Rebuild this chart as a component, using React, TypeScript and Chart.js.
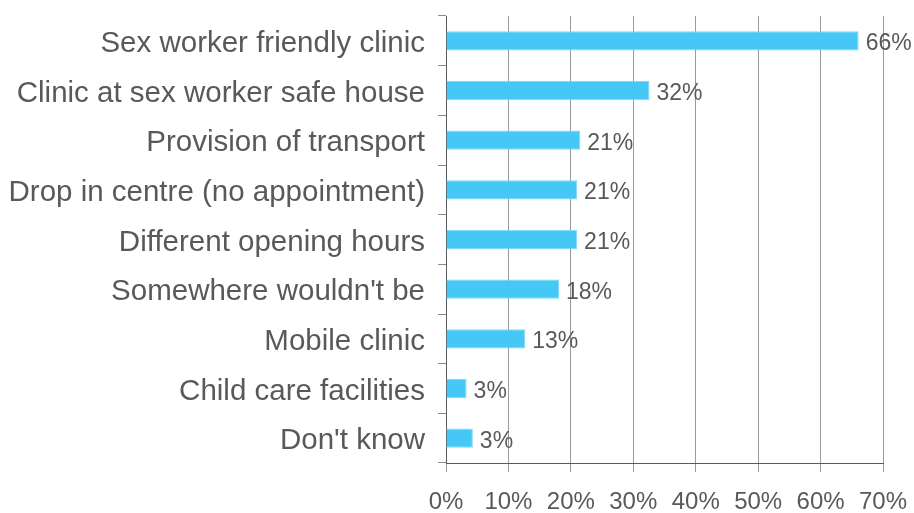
import React, { useEffect, useRef } from "react";
import { Chart, registerables } from "chart.js";

Chart.register(...registerables);

const categories = [
  "Sex worker friendly clinic",
  "Clinic at sex worker safe house",
  "Provision of transport",
  "Drop in centre (no appointment)",
  "Different opening hours",
  "Somewhere wouldn't be",
  "Mobile clinic",
  "Child care facilities",
  "Don't know",
];
const values = [66.1, 32.6, 21.5, 21.0, 21.0, 18.1, 12.7, 3.3, 4.3];
const valueLabels = ["66%", "32%", "21%", "21%", "21%", "18%", "13%", "3%", "3%"];
const xTicks = [0, 10, 20, 30, 40, 50, 60, 70];

const FONT = "'Liberation Sans', Arial, sans-serif";
const TEXT = "#595959";

export default function App() {
  const ref = useRef<HTMLCanvasElement | null>(null);
  useEffect(() => {
    document.body.style.margin = "0";
    const canvas = ref.current;
    if (!canvas) return;
    const labelPlugin = {
      id: "valueLabels",
      afterDatasetsDraw(chart: any) {
        const ctx = chart.ctx;
        const meta = chart.getDatasetMeta(0);
        ctx.save();
        ctx.font = `23px ${FONT}`;
        ctx.fillStyle = TEXT;
        ctx.textAlign = "left";
        ctx.textBaseline = "middle";
        meta.data.forEach((bar: any, i: number) => {
          ctx.fillText(valueLabels[i], bar.x + 7, bar.y + 3);
        });
        ctx.restore();
      },
    };
    const chart = new Chart(canvas, {
      type: "bar",
      data: {
        labels: categories,
        datasets: [
          {
            data: values,
            backgroundColor: "#45C8F5",
            borderColor: "#7fd8f8",
            borderWidth: 1,
            barPercentage: 0.39,
            categoryPercentage: 1,
          },
        ],
      },
      options: {
        indexAxis: "y",
        responsive: false,
        animation: false,
        devicePixelRatio: 1,
        layout: { padding: { top: 16, right: 31, bottom: 0, left: 0 } },
        plugins: { legend: { display: false }, tooltip: { enabled: false } },
        scales: {
          x: {
            min: 0,
            max: 70,
            afterBuildTicks: (scale: any) => {
              scale.ticks = xTicks.map((v) => ({ value: v }));
            },
            afterFit: (scale: any) => {
              scale.height = 50;
              scale.paddingLeft = 0;
              scale.paddingRight = 0;
            },
            ticks: {
              callback: (v: any) => v + "%",
              color: TEXT,
              font: { family: FONT, size: 24 },
              padding: 16,
              maxRotation: 0,
              autoSkip: false,
            },
            grid: { color: "#9a9a9a", tickLength: 9, lineWidth: 1 },
            border: { color: "#5a5a5a", width: 1 },
          },
          y: {
            afterFit: (scale: any) => {
              scale.width = 446;
              scale.paddingTop = 0;
              scale.paddingBottom = 0;
            },
            ticks: {
              color: TEXT,
              font: { family: FONT, size: 29.5 },
              padding: 13,
              labelOffset: 3,
              autoSkip: false,
            },
            grid: {
              drawOnChartArea: false,
              drawTicks: true,
              tickLength: 8,
              color: "#8a8a8a",
              offset: true,
            },
            border: { color: "#5a5a5a", width: 1 },
          },
        },
      },
      plugins: [labelPlugin],
    });
    return () => chart.destroy();
  }, []);
  return (
    <canvas
      ref={ref}
      width={914}
      height={513}
      style={{ display: "block", width: 914, height: 513 }}
    />
  );
}
